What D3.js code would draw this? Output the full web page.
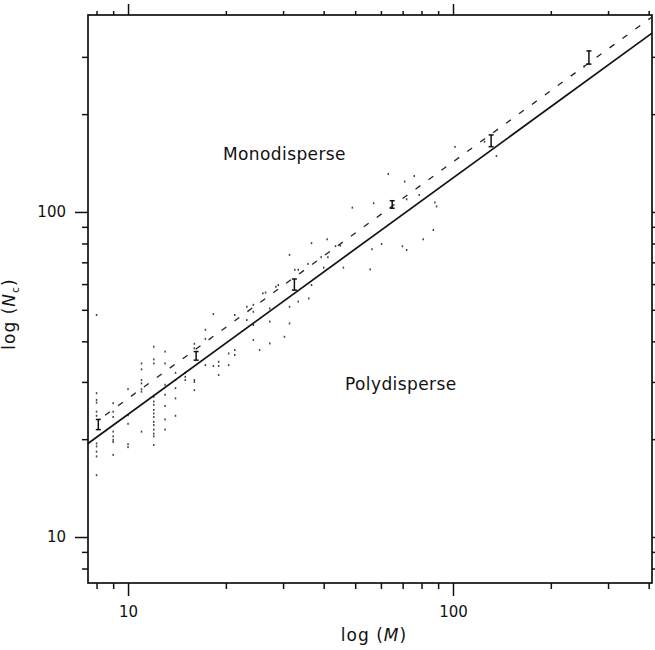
<!DOCTYPE html>
<html>
<head>
<meta charset="utf-8">
<script src="https://cdn.jsdelivr.net/npm/d3@7"></script>
<style>
  body { margin: 0; background: #fff; }
  text { font-family: "DejaVu Sans", sans-serif; fill: #111; }
</style>
</head>
<body>
<div class="chart"></div>
<script>
// Scattered simulations: [M, Nc]
var scatterPoints = [
  [8, 48.2], [8, 27.7], [8, 26.4], [8, 25.9], [8, 24.3], [8, 23.6], [8, 19.4], [8, 19.0], [8, 18.3], [8, 17.7], [8, 15.5],
  [9, 25.8], [9, 24.3], [9, 23.4], [9, 21.1], [9, 20.4], [9, 19.9], [9, 19.6], [9, 17.9],
  [10, 28.5], [10, 23.7], [10, 22.3], [10, 19.3], [10, 18.9],
  [11, 34.2], [11, 32.8], [11, 30.4], [11, 29.7], [11, 28.5], [11, 28.0], [11, 21.1],
  [12, 38.5], [12, 35.2], [12, 34.2], [12, 27.0], [12, 26.1], [12, 25.5], [12, 24.6], [12, 24.0], [12, 23.4],
  [12, 22.6], [12, 22.1], [12, 21.4], [12, 20.8], [12, 20.4], [12, 19.2],
  [13, 37.2], [13, 34.2], [13, 29.4], [13, 27.4], [13, 25.3], [13, 23.0], [13, 21.4],
  [14, 32.0], [14, 30.4], [14, 28.7], [14, 26.7], [14, 23.6],
  [15, 32.0], [15, 31.1], [15, 30.4],
  [16, 39.3], [16, 38.1], [16, 30.4], [16, 30.0], [16, 28.3],
  [17.3, 43.4], [17.3, 40.7], [17.3, 33.8], [18.3, 48.5], [18.3, 33.6], [19, 34.6], [19, 33.6], [19, 31.5],
  [20.4, 36.7], [20.4, 33.8], [21.3, 48.2], [21.3, 37.6], [21.3, 36.3], [23.2, 51.1], [23.2, 46.5],
  [24.3, 51.8], [24.3, 49.3], [24.3, 44.9], [24.3, 40.4], [25.4, 37.6], [26, 56.2], [26.5, 56.5],
  [27.3, 50.5], [27.3, 46.0], [27.3, 39.4], [28.5, 58.9], [29, 59.6], [30.3, 41.3],
  [31.4, 73.8], [31.4, 51.1], [31.4, 45.4], [32.6, 66.4], [33.4, 66.4], [33.4, 53.0],
  [35.8, 69.2], [36, 54.2], [36.7, 80.2], [36.7, 59.6], [39.3, 72.6], [40, 67.4], [41, 82.4], [41.2, 72.6],
  [43.5, 78.5], [45, 78.8], [46, 67.4], [49, 103.1], [55.6, 66.6], [56.3, 76.8], [57, 106.4], [60.3, 79.7],
  [63.2, 130.9], [69.9, 78.4], [71, 124], [72, 109.4], [72, 76.4], [76, 129], [78.7, 112.8], [81, 82.4],
  [87, 88.0], [88, 107], [89, 104], [101.4, 158.6], [125, 164.5], [136, 148.6], [253, 280]
];

// Averages with error bars
var barM = [8.1, 16.2, 32.5, 65, 131, 262];
var barLow = [21.4, 35.0, 57.5, 102.7, 158.8, 285];
var barHigh = [23.0, 37.2, 62.2, 108.3, 172.6, 313];

// Boundary lines (end points)
var solidM = [7.53, 409.6];
var solidN = [19.4, 355];
var dashedM = [8.5, 409.6];
var dashedN = [23.7, 398];

var majorTicks = [10, 100];
var minorTicksX = [8, 9, 20, 30, 40, 50, 60, 70, 80, 90, 200, 300, 400];
var minorTicksY = [8, 9, 20, 30, 40, 50, 60, 70, 80, 90, 200, 300];

var svgWidth = 655;
var svgHeight = 650;
var margin = { top: 15, right: 3, bottom: 67, left: 88 };
var width = svgWidth - margin.left - margin.right;
var height = svgHeight - margin.top - margin.bottom;

var svg = d3.select(".chart")
  .append("svg")
  .attr("width", svgWidth)
  .attr("height", svgHeight);

var chartGroup = svg.append("g")
  .attr("transform", `translate(${margin.left}, ${margin.top})`);

var xScale = d3.scaleLog().domain([7.53, 409.6]).range([0, width]);
var yScale = d3.scaleLog().domain([7.22, 403.6]).range([height, 0]);

// axes: minor ticks, then major ticks with labels
function addAxis(axisFn, scale, values, size, transform, labels, pad) {
  var ax = axisFn(scale).tickValues(values).tickSize(size).tickSizeOuter(0);
  if (labels) ax.tickFormat(d3.format("d")).tickPadding(pad);
  else ax.tickFormat("");
  var g = chartGroup.append("g").attr("transform", transform).call(ax);
  g.select(".domain").remove();
  g.selectAll("line").attr("stroke", "#111").attr("stroke-width", 1.5);
  g.selectAll("text").attr("font-size", "15px").attr("fill", "#111")
    .style("font-family", "DejaVu Sans, sans-serif");
  return g;
}

addAxis(d3.axisBottom, xScale, minorTicksX, 6, `translate(0, ${height})`, false);
addAxis(d3.axisBottom, xScale, majorTicks, 13, `translate(0, ${height})`, true, 10);
addAxis(d3.axisTop, xScale, minorTicksX, 4, "translate(0, 0)", false);
addAxis(d3.axisTop, xScale, majorTicks, 11, "translate(0, 0)", false);
addAxis(d3.axisLeft, yScale, minorTicksY, 6, "translate(0, 0)", false);
addAxis(d3.axisLeft, yScale, majorTicks, 13, "translate(0, 0)", true, 9);
addAxis(d3.axisRight, yScale, minorTicksY, 6, `translate(${width}, 0)`, false);
addAxis(d3.axisRight, yScale, majorTicks, 13, `translate(${width}, 0)`, false);

// frame
chartGroup.append("rect")
  .attr("x", 0).attr("y", 0)
  .attr("width", width).attr("height", height)
  .attr("fill", "none")
  .attr("stroke", "#111")
  .attr("stroke-width", 1.7);

// scatter dots
chartGroup.append("g")
  .selectAll("rect")
  .data(scatterPoints)
  .enter()
  .append("rect")
  .attr("x", d => xScale(d[0]) - 0.75)
  .attr("y", d => yScale(d[1]) - 1)
  .attr("width", 1.5)
  .attr("height", 2)
  .attr("fill", "#444");

// lines
var line = d3.line().x(d => xScale(d[0])).y(d => yScale(d[1]));

chartGroup.append("path")
  .datum(solidM.map((m, i) => [m, solidN[i]]))
  .attr("d", line)
  .attr("fill", "none")
  .attr("stroke", "#111")
  .attr("stroke-width", 1.7);

chartGroup.append("path")
  .datum(dashedM.map((m, i) => [m, dashedN[i]]))
  .attr("d", line)
  .attr("fill", "none")
  .attr("stroke", "#222")
  .attr("stroke-width", 1.3)
  .attr("stroke-dasharray", "6,10");

// error bars
var bars = chartGroup.append("g")
  .selectAll("g")
  .data(barM)
  .enter()
  .append("g")
  .attr("stroke", "#111")
  .attr("stroke-width", 1.5);

bars.append("line")
  .attr("x1", d => xScale(d)).attr("x2", d => xScale(d))
  .attr("y1", (d, i) => yScale(barLow[i])).attr("y2", (d, i) => yScale(barHigh[i]));
bars.append("line")
  .attr("x1", d => xScale(d) - 2.5).attr("x2", d => xScale(d) + 2.5)
  .attr("y1", (d, i) => yScale(barLow[i])).attr("y2", (d, i) => yScale(barLow[i]));
bars.append("line")
  .attr("x1", d => xScale(d) - 2.5).attr("x2", d => xScale(d) + 2.5)
  .attr("y1", (d, i) => yScale(barHigh[i])).attr("y2", (d, i) => yScale(barHigh[i]));

// region labels
chartGroup.append("text")
  .attr("x", 223 - margin.left)
  .attr("y", 160 - margin.top)
  .attr("font-size", "17px")
  .attr("letter-spacing", "0.4px")
  .text("Monodisperse");

chartGroup.append("text")
  .attr("x", 345 - margin.left)
  .attr("y", 390 - margin.top)
  .attr("font-size", "17px")
  .attr("letter-spacing", "0.4px")
  .text("Polydisperse");

// axis titles
var xTitle = svg.append("text")
  .attr("x", 374)
  .attr("y", 641)
  .attr("text-anchor", "middle")
  .attr("font-size", "17px")
  .attr("letter-spacing", "1px");
xTitle.append("tspan").text("log (");
xTitle.append("tspan").attr("font-style", "italic").text("M");
xTitle.append("tspan").text(")");

var yTitle = svg.append("text")
  .attr("transform", "translate(15, 314) rotate(-90)")
  .attr("text-anchor", "middle")
  .attr("font-size", "17px")
  .attr("letter-spacing", "1px");
yTitle.append("tspan").text("log (");
yTitle.append("tspan").attr("font-style", "italic").text("N");
yTitle.append("tspan").attr("font-size", "11px").attr("dy", "4").text("c");
yTitle.append("tspan").attr("dy", "-4").text(")");
</script>
</body>
</html>
